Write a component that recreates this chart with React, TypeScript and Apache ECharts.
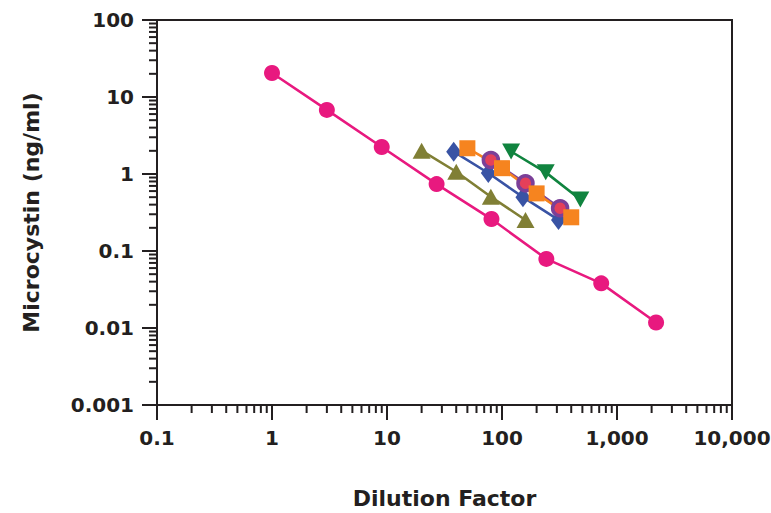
import React, { useEffect, useRef } from 'react';
import * as echarts from 'echarts';

const xTickLabels = ['0.1', '1', '10', '100', '1,000', '10,000'];
const yTickLabels = ['0.001', '0.01', '0.1', '1', '10', '100'];
const xDecades = [0.1, 1, 10, 100, 1000];
const yDecades = [0.001, 0.01, 0.1, 1, 10];

const pinkX = [1, 3, 9, 27, 81, 243, 729, 2187];
const pinkY = [20.5, 6.8, 2.24, 0.74, 0.26, 0.079, 0.038, 0.0118];
const oliveX = [20, 40, 80, 160];
const oliveY = [2.01, 1.07, 0.507, 0.253];
const blueX = [38, 76, 152, 310];
const blueY = [1.95, 1.03, 0.5, 0.253];
const purpleX = [80, 160, 320];
const purpleY = [1.52, 0.757, 0.359];
const orangeX = [50, 100, 200, 400];
const orangeY = [2.16, 1.19, 0.56, 0.274];
const greenX = [120, 240, 480];
const greenY = [1.96, 1.05, 0.467];

const INK = '#231f20';
const FONT = 'DejaVu Sans';

const zip = (xs: number[], ys: number[]) => xs.map((x, i) => [x, ys[i]]);

export default function App() {
  const ref = useRef<HTMLDivElement>(null);
  useEffect(() => {
    document.body.style.margin = '0';
    const chart = echarts.init(ref.current!, null, { renderer: 'svg' });
    const lineSeries = (name: string, xs: number[], ys: number[], color: string, symbol: string, size: any, extra: any = {}) => ({
      name,
      type: 'line',
      data: zip(xs, ys),
      symbol,
      symbolSize: size,
      showSymbol: true,
      lineStyle: { color, width: 2.6 },
      itemStyle: { color, borderWidth: 0 },
      ...extra,
    });
    chart.setOption({
      animation: false,
      grid: {
        left: 157, right: 39, top: 20, bottom: 108,
        show: true, borderColor: INK, borderWidth: 2,
        containLabel: false, outerBoundsMode: 'none',
      },
      xAxis: {
        type: 'log',
        logBase: 10,
        min: 0.1,
        max: 10000,
        splitNumber: 5,
        name: 'Dilution Factor',
        nameLocation: 'middle',
        nameGap: 82,
        nameTextStyle: { fontSize: 22, fontWeight: 'bold', fontFamily: FONT, color: INK },
        axisLine: { show: true, lineStyle: { color: INK, width: 2 } },
        axisTick: { show: true, length: 15, lineStyle: { color: INK, width: 2 } },
        splitLine: { show: false },
        axisLabel: {
          margin: 23,
          fontSize: 20,
          fontWeight: 'bold',
          fontFamily: FONT,
          color: INK,
          formatter: (v: number) => xTickLabels[Math.round(Math.log10(v)) + 1],
        },
      },
      yAxis: {
        type: 'log',
        logBase: 10,
        min: 0.001,
        max: 100,
        splitNumber: 5,
        name: 'Microcystin (ng/ml)',
        nameLocation: 'middle',
        nameGap: 115,
        nameTextStyle: { fontSize: 22, fontWeight: 'bold', fontFamily: FONT, color: INK },
        axisLine: { show: true, lineStyle: { color: INK, width: 2 } },
        axisTick: { show: true, length: 15, lineStyle: { color: INK, width: 2 } },
        splitLine: { show: false },
        axisLabel: {
          margin: 23,
          fontSize: 20,
          fontWeight: 'bold',
          fontFamily: FONT,
          color: INK,
          formatter: (v: number) => yTickLabels[Math.round(Math.log10(v)) + 3],
        },
      },
      series: [
        lineSeries('pink', pinkX, pinkY, '#e8197f', 'circle', 16),
        lineSeries('olive', oliveX, oliveY, '#807f35', 'triangle', [18, 16]),
        lineSeries('blue', blueX, blueY, '#3953a4', 'diamond', [15, 20]),
        lineSeries('purple', purpleX, purpleY, '#7b3f98', 'circle', 15, {
          itemStyle: { color: '#e4405a', borderColor: '#7b3f98', borderWidth: 3.5 },
        }),
        lineSeries('orange', orangeX, orangeY, '#f6841f', 'rect', 16),
        lineSeries('green', greenX, greenY, '#10843f', 'triangle', [18, 16], { symbolRotate: 180 }),
      ],
    });

    // minor ticks at 2..9 of each decade, positioned through the axes' own scales
    const graphics: any[] = [];
    const yBase = chart.convertToPixel({ yAxisIndex: 0 }, 0.001) as number;
    const xBase = chart.convertToPixel({ xAxisIndex: 0 }, 0.1) as number;
    xDecades.forEach((d) => {
      for (let k = 2; k <= 9; k++) {
        const px = chart.convertToPixel({ xAxisIndex: 0 }, d * k) as number;
        graphics.push({
          type: 'line',
          silent: true,
          shape: { x1: px, y1: yBase, x2: px, y2: yBase + 8 },
          style: { stroke: INK, lineWidth: 2 },
        });
      }
    });
    yDecades.forEach((d) => {
      for (let k = 2; k <= 9; k++) {
        const py = chart.convertToPixel({ yAxisIndex: 0 }, d * k) as number;
        graphics.push({
          type: 'line',
          silent: true,
          shape: { x1: xBase, y1: py, x2: xBase - 8, y2: py },
          style: { stroke: INK, lineWidth: 2 },
        });
      }
    });
    chart.setOption({ graphic: graphics });

    return () => chart.dispose();
  }, []);
  return <div ref={ref} style={{ width: 771, height: 513 }} />;
}
